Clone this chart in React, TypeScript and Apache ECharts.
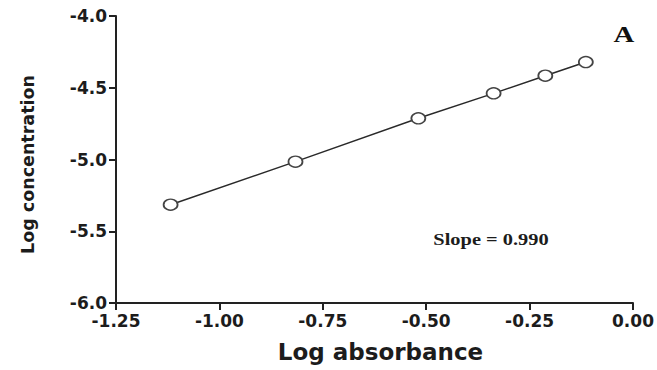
import React, { useEffect, useRef } from "react";
import * as echarts from "echarts";

const logAbsorbance = [-1.118, -0.816, -0.519, -0.337, -0.212, -0.114];
const logConcentration = [-5.315, -5.015, -4.713, -4.539, -4.416, -4.321];
const xTicks = { min: -1.25, max: 0, interval: 0.25 };
const yTicks = { min: -6, max: -4, interval: 0.5 };
const xName = "Log absorbance";
const yName = "Log concentration";
const panelLabel = "A";
const slopeLabel = "Slope = 0.990";

export default function App() {
  const ref = useRef<HTMLDivElement>(null);
  useEffect(() => {
    if (!ref.current) return;
    const chart = echarts.init(ref.current, undefined, { renderer: "svg" });
    const axisFont = "DejaVu Sans";
    const textColor = "#1c1c1c";
    chart.setOption({
      animation: false,
      backgroundColor: "#ffffff",
      grid: { left: 116, top: 16, right: 24, bottom: 67, containLabel: false },
      xAxis: {
        type: "value",
        min: xTicks.min,
        max: xTicks.max,
        interval: xTicks.interval,
        name: xName,
        nameLocation: "middle",
        nameGap: 37,
        nameTextStyle: { fontFamily: axisFont, fontWeight: "bold", fontSize: 23, color: textColor, padding: [0, 0, 0, 12] },
        axisLine: { show: true, onZero: false, lineStyle: { color: "#222", width: 2 } },
        axisTick: { show: true, length: 7, inside: false, lineStyle: { color: "#222", width: 2 } },
        axisLabel: {
          margin: 9,
          fontFamily: axisFont,
          fontWeight: "bold",
          fontSize: 17,
          color: textColor,
          formatter: (v: number) => v.toFixed(2),
        },
        splitLine: { show: false },
      },
      yAxis: {
        type: "value",
        min: yTicks.min,
        max: yTicks.max,
        interval: yTicks.interval,
        name: yName,
        nameLocation: "middle",
        nameGap: 79,
        nameRotate: 90,
        nameTextStyle: { fontFamily: axisFont, fontWeight: "bold", fontSize: 17.5, color: textColor, padding: [0, 10, 0, 0] },
        axisLine: { show: true, onZero: false, lineStyle: { color: "#222", width: 2 } },
        axisTick: { show: true, length: 7, inside: false, lineStyle: { color: "#222", width: 2 } },
        axisLabel: {
          margin: 9,
          fontFamily: axisFont,
          fontWeight: "bold",
          fontSize: 17,
          color: textColor,
          formatter: (v: number) => v.toFixed(1),
        },
        splitLine: { show: false },
      },
      series: [
        {
          type: "line",
          data: logAbsorbance.map((x, i) => [x, logConcentration[i]]),
          symbol: "circle",
          symbolSize: [14, 11],
          showAllSymbol: true,
          lineStyle: { color: "#2a2a2a", width: 1.5 },
          itemStyle: { color: "#ffffff", borderColor: "#444", borderWidth: 1.6 },
          z: 3,
        },
      ],
      graphic: [
        {
          type: "text",
          x: 624,
          y: 34,
          scaleX: 1.2,
          style: {
            text: panelLabel,
            font: "bold 24px 'Liberation Serif'",
            fill: "#111",
            align: "center",
            verticalAlign: "middle",
          },
        },
        {
          type: "text",
          x: 491,
          y: 239,
          scaleX: 1.2,
          style: {
            text: slopeLabel,
            font: "bold 17px 'Liberation Serif'",
            fill: "#1c1c1c",
            align: "center",
            verticalAlign: "middle",
          },
        },
      ],
    });
    return () => chart.dispose();
  }, []);
  return (
    <div
      ref={ref}
      style={{ position: "fixed", left: 0, top: 0, width: 657, height: 370, background: "#fff" }}
    />
  );
}
